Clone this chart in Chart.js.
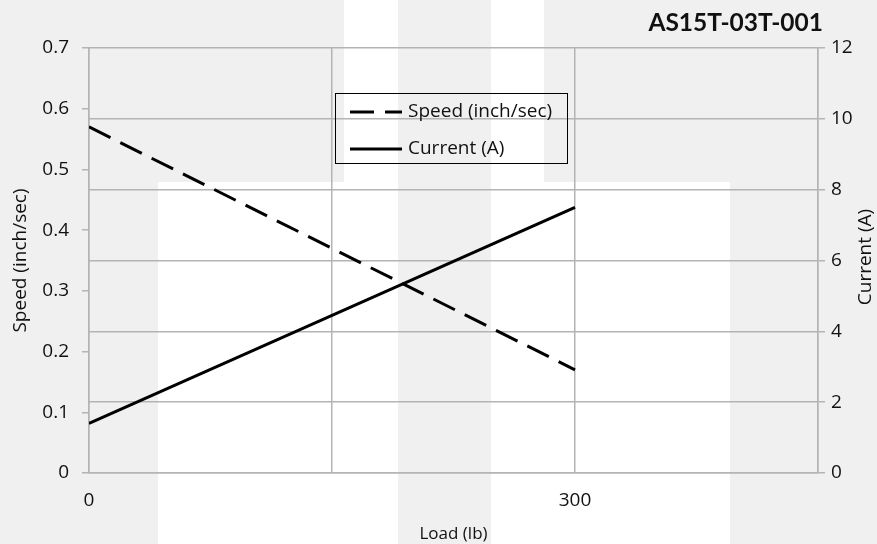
<!DOCTYPE html>
<html>
<head>
<meta charset="utf-8">
<script src="https://cdn.jsdelivr.net/npm/chart.js@4/dist/chart.umd.min.js"></script>
<style>
  html, body { margin: 0; padding: 0; background: #f0f0f0; }
  #wrap { width: 877px; height: 544px; position: relative; }
</style>
</head>
<body>
<div id="wrap"><canvas id="myChart"></canvas></div>
<script>
// chart values
var chartTitle = 'AS15T-03T-001';
var loads = [0, 300];
var speed = [0.57, 0.17];
var current = [1.4, 7.5];
var xLabelsShown = [0, 300];
var rightTitle = 'Current (A)';

var FONT = "'Open Sans', 'Noto Sans', sans-serif";
var GRID = '#b4b4b4';

//background patches, legend box, title and right axis title
var decorPlugin = {
	id: 'decor',
	beforeDraw: function(chart) {
		var ctx = chart.ctx;
		ctx.save();
		ctx.fillStyle = '#f0f0f0';
		ctx.fillRect(0, 0, chart.width, chart.height);
		ctx.fillStyle = '#ffffff';
		ctx.fillRect(344, 0, 54, 182);
		ctx.fillRect(491, 0, 53, 182);
		ctx.fillRect(158, 182, 240, 362);
		ctx.fillRect(491, 182, 239, 362);
		ctx.restore();
	},
	afterDraw: function(chart) {
		var ctx = chart.ctx;
		ctx.save();
		// title
		ctx.fillStyle = '#111';
		ctx.font = "bold 24.5px 'Lato', 'Noto Sans', sans-serif";
		ctx.textAlign = 'right';
		ctx.textBaseline = 'alphabetic';
		ctx.fillText(chartTitle, 823, 31);

		// right axis title, reads bottom to top
		ctx.save();
		ctx.translate(866, 257);
		ctx.rotate(-Math.PI / 2);
		ctx.font = '19px ' + FONT;
		ctx.textAlign = 'center';
		ctx.textBaseline = 'middle';
		ctx.fillText(rightTitle, 0, 0);
		ctx.restore();

		// legend
		ctx.strokeStyle = '#000';
		ctx.lineWidth = 1;
		ctx.strokeRect(335.5, 93.5, 232, 70);
		var ys = [112, 149];
		ctx.font = '19px ' + FONT;
		ctx.textAlign = 'left';
		ctx.textBaseline = 'middle';
		chart.data.datasets.forEach(function(ds, i) {
			ctx.beginPath();
			ctx.lineWidth = 3;
			ctx.strokeStyle = ds.borderColor;
			ctx.setLineDash(ds.borderDash || []);
			ctx.moveTo(350, ys[i]);
			ctx.lineTo(402, ys[i]);
			ctx.stroke();
			ctx.setLineDash([]);
			ctx.fillStyle = '#111';
			ctx.fillText(ds.label, 408, ys[i]);
		});
		ctx.restore();
	}
};

var ctx = document.getElementById('myChart').getContext('2d');
var chart = new Chart(ctx, {
	type: 'scatter',
	data: {
		datasets: [{
			label: 'Speed (inch/sec)',
			data: loads.map(function(x, i) { return {x: x, y: speed[i]}; }),
			yAxisID: 'y',
			showLine: true,
			borderColor: '#000',
			borderWidth: 3,
			borderDash: [24, 11],
			pointRadius: 0
		}, {
			label: 'Current (A)',
			data: loads.map(function(x, i) { return {x: x, y: current[i]}; }),
			yAxisID: 'y1',
			showLine: true,
			borderColor: '#000',
			borderWidth: 3,
			pointRadius: 0
		}]
	},
	options: {
		responsive: true,
		maintainAspectRatio: false,
		animation: false,
		layout: {padding: {top: 48, left: 0, right: 0, bottom: 0}},
		plugins: {
			legend: {display: false},
			tooltip: {enabled: false}
		},
		scales: {
			x: {
				type: 'linear',
				min: 0,
				max: 450,
				afterBuildTicks: function(axis) {
					axis.ticks = [0, 150, 300, 450].map(function(v) { return {value: v}; });
				},
				afterFit: function(axis) { axis.height = 71; },
				grid: {color: GRID, lineWidth: 1.5, drawTicks: false},
				border: {color: GRID, width: 1.5},
				ticks: {
					padding: 16,
					color: '#111',
					font: {family: FONT, size: 19},
					callback: function(v) { return xLabelsShown.indexOf(v) >= 0 ? v : ''; }
				},
				title: {display: true, text: 'Load (lb)', color: '#111', font: {family: FONT, size: 17}, padding: {top: 2, bottom: 0}}
			},
			y: {
				position: 'left',
				min: 0,
				max: 0.7,
				afterFit: function(axis) { axis.width = 89; },
				grid: {drawOnChartArea: false, color: GRID, lineWidth: 1.5, tickLength: 7},
				border: {color: GRID, width: 1.5},
				ticks: {
					stepSize: 0.1,
					padding: 13,
					color: '#111',
					font: {family: FONT, size: 19},
					callback: function(v) { return v === 0 ? '0' : v.toFixed(1); }
				},
				title: {display: true, text: 'Speed (inch/sec)', color: '#111', font: {family: FONT, size: 19}, padding: {top: 9, bottom: 0}}
			},
			y1: {
				position: 'right',
				min: 0,
				max: 12,
				afterFit: function(axis) { axis.width = 59; },
				grid: {color: GRID, lineWidth: 1.5, tickLength: 7},
				border: {color: GRID, width: 1.5},
				ticks: {
					stepSize: 2,
					padding: 6,
					color: '#111',
					font: {family: FONT, size: 19}
				},
				title: {display: false}
			}
		}
	},
	plugins: [decorPlugin]
});
</script>
</body>
</html>
